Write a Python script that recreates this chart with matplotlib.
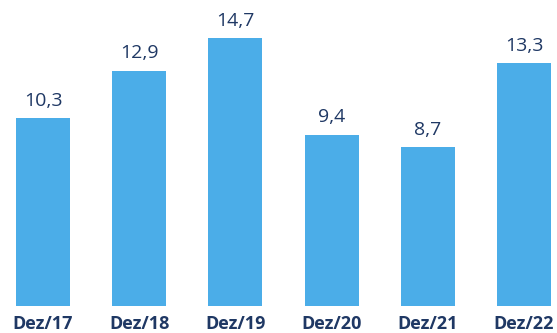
import matplotlib.pyplot as plt
import numpy as np

categories = ["Dez/17", "Dez/18", "Dez/19", "Dez/20", "Dez/21", "Dez/22"]
values = [10.3, 12.9, 14.7, 9.4, 8.7, 13.3]
labels = ["10,3", "12,9", "14,7", "9,4", "8,7", "13,3"]

bar_color = "#4BADE8"
text_color = "#1F3864"

fig = plt.figure(figsize=(5.57, 3.33), dpi=100)
ax = fig.add_axes([0, 27 / 333, 1, 306 / 333])

x = np.arange(len(categories))
ax.bar(x, values, width=0.56, color=bar_color)

# value labels above each bar
for xi, v, lab in zip(x, values, labels):
    ax.annotate(lab, (xi, v), xytext=(0, 6), textcoords="offset points",
                ha="center", va="bottom", fontsize=14,
                color=text_color, family="Open Sans")

ax.set_xlim(-43 / 96.2, 514 / 96.2)
ax.set_ylim(0, 306 / 18.24)
ax.set_xticks(x)
ax.set_xticklabels(categories, fontsize=13, fontweight="bold",
                   color=text_color, family="Open Sans")
ax.tick_params(axis="x", length=0, pad=6.5)
ax.set_yticks([])
for s in ax.spines.values():
    s.set_visible(False)

fig.savefig("out.png", dpi=100)
